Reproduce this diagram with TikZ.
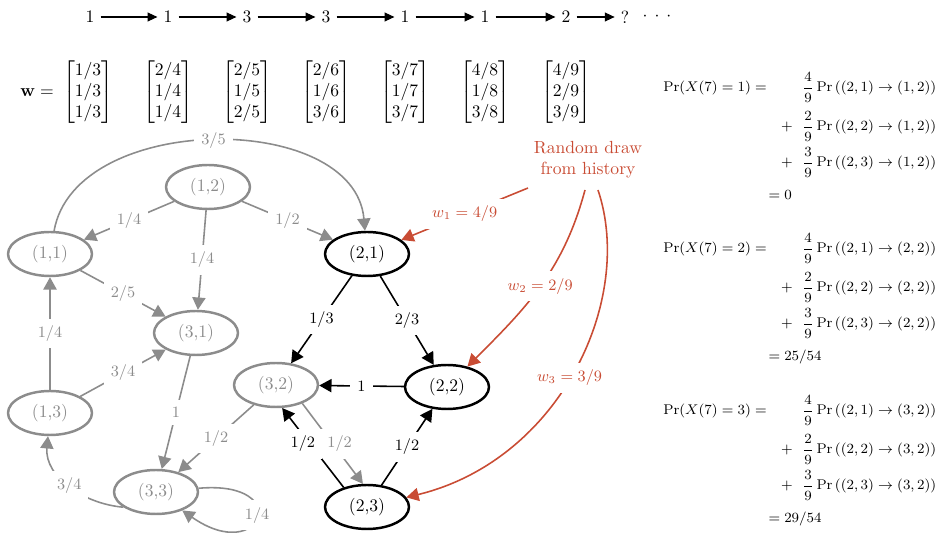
\documentclass[tikz,border=0pt]{standalone}
\usepackage{amsmath}
\usetikzlibrary{arrows.meta,shapes.geometric}
\definecolor{gr}{RGB}{140,140,140}
\definecolor{rd}{RGB}{201,76,52}
\begin{document}
\begin{tikzpicture}[x=0.02cm,y=-0.02cm,
  stn/.style={ellipse, draw, line width=1.4pt, minimum width=1.68cm, minimum height=0.88cm, inner sep=0pt},
  gst/.style={stn, draw=gr, text=gr},
  bst/.style={stn, draw=black},
  arrtip/.style={-{Triangle[length=7pt,width=7.5pt]}},
  gedge/.style={draw=gr, line width=0.9pt, arrtip},
  bedge/.style={draw=black, line width=0.9pt, arrtip},
  redge/.style={draw=rd, line width=0.9pt, arrtip},
  lab/.style={fill=white, inner sep=4pt, font=\small},
  glab/.style={lab, text=gr},
  rlab/.style={lab, text=rd},
  seqarr/.style={line width=0.6pt, -{Triangle[length=5.5pt,width=5pt]}},
  eqn/.style={inner sep=0pt, font=\footnotesize, anchor=base west},
  eqlead/.style={inner sep=0pt, font=\footnotesize, anchor=base east},
  plusn/.style={inner sep=0pt, font=\footnotesize, anchor=base east}
]
\useasboundingbox (0,0) rectangle (938,533);

% ---- top sequence ----
\node (s1) at (90,17) {$1$};
\node (s2) at (168,17) {$1$};
\node (s3) at (247,17) {$3$};
\node (s4) at (326,17) {$3$};
\node (s5) at (405,17) {$1$};
\node (s6) at (485,17) {$1$};
\node (s7) at (566,17) {$2$};
\node (s8) at (625,17) {$?$};
\node (s9) at (657,17) {${\cdot}\hspace{4pt}{\cdot}\hspace{4pt}{\cdot}$};
\draw[seqarr] (s1) -- (s2);
\draw[seqarr] (s2) -- (s3);
\draw[seqarr] (s3) -- (s4);
\draw[seqarr] (s4) -- (s5);
\draw[seqarr] (s5) -- (s6);
\draw[seqarr] (s6) -- (s7);
\draw[seqarr] (s7) -- (s8);

% ---- weight vectors ----
\node[anchor=east] (wl) at (60,93) {$\mathbf{w} =$};
\node (m1) at (88,92) {$\begin{bmatrix}1/3\\1/3\\1/3\end{bmatrix}$};
\node (m2) at (168,92) {$\begin{bmatrix}2/4\\1/4\\1/4\end{bmatrix}$};
\node (m3) at (247,92) {$\begin{bmatrix}2/5\\1/5\\2/5\end{bmatrix}$};
\node (m4) at (326,92) {$\begin{bmatrix}2/6\\1/6\\3/6\end{bmatrix}$};
\node (m5) at (405,92) {$\begin{bmatrix}3/7\\1/7\\3/7\end{bmatrix}$};
\node (m6) at (485,92) {$\begin{bmatrix}4/8\\1/8\\3/8\end{bmatrix}$};
\node (m7) at (566,92) {$\begin{bmatrix}4/9\\2/9\\3/9\end{bmatrix}$};

% ---- graph nodes ----
\node[gst] (n12) at (208,187) {(1,2)};
\node[gst] (n11) at (50,254) {(1,1)};
\node[bst] (n21) at (367,254) {(2,1)};
\node[gst] (n31) at (196,333) {(3,1)};
\node[gst] (n13) at (50,413) {(1,3)};
\node[gst] (n32) at (276,385) {(3,2)};
\node[bst] (n22) at (447,387) {(2,2)};
\node[gst] (n33) at (156,492) {(3,3)};
\node[bst] (n23) at (367,507) {(2,3)};

% ---- gray edges ----
\draw[gedge] (n12) -- node[glab]{$1/4$} (n11);
\draw[gedge] (n12) -- node[glab]{$1/2$} (n21);
\draw[gedge] (n12) -- node[glab]{$1/4$} (n31);
\draw[gedge] (n11) to[out=80,in=95] node[glab]{$3/5$} (n21);
\draw[gedge] (n11) -- node[glab]{$2/5$} (n31);
\draw[gedge] (n13) -- node[glab]{$1/4$} (n11);
\draw[gedge] (n13) -- node[glab]{$3/4$} (n31);
\draw[gedge] (n31) -- node[glab]{$1$} (n33);
\draw[gedge] (n32) -- node[glab]{$1/2$} (n33);
\draw[gedge] (n32.-35) -- node[glab, xshift=4pt]{$1/2$} (n23.100);
\draw[gedge] (n33.205) to[out=175,in=-95] node[glab]{$3/4$} (n13);
\draw[gedge] (n33) to[out=5,in=-35,looseness=9] node[glab, pos=0.48]{$1/4$} (n33);

% ---- black edges ----
\draw[bedge] (n21) -- node[lab]{$1/3$} (n32);
\draw[bedge] (n21) -- node[lab]{$2/3$} (n22);
\draw[bedge] (n22) -- node[lab]{$1$} (n32);
\draw[bedge] (n23.140) -- node[lab, xshift=-4pt, pos=0.55]{$1/2$} (n32.-75);
\draw[bedge] (n23) -- node[lab]{$1/2$} (n22);

% ---- random draw ----
\node[text=rd, align=center] (rdraw) at (588,160) {Random draw\\from history};
\coordinate (r1) at (528,188);
\coordinate (r2) at (585,190);
\coordinate (r3) at (598,190);
\draw[redge] (r1) -- node[rlab]{$w_1 = 4/9$} (n21);
\draw[redge] (r2) to[out=-105,in=45] node[rlab]{$w_2 = 2/9$} (n22);
\draw[redge] (r3) .. controls (635,300) and (560,460) .. node[rlab, pos=0.52]{$w_3 = 3/9$} (n23);

% ---- equations ----
\node[eqlead] (pa1) at (767,91.5) {$\Pr(X(7)=1) =$};
\node[eqn] (pb1) at (802,91.5) {$\displaystyle\frac{4}{9}\Pr\left((2,1)\to(1,2)\right)$};
\node[plusn] (pc1) at (793,130.5) {$+$};
\node[eqn] (pd1) at (802,130.5) {$\displaystyle\frac{2}{9}\Pr\left((2,2)\to(1,2)\right)$};
\node[plusn] (pe1) at (793,166.5) {$+$};
\node[eqn] (pf1) at (802,166.5) {$\displaystyle\frac{3}{9}\Pr\left((2,3)\to(1,2)\right)$};
\node[eqn] (pg1) at (764,199.5) {${}=0$};

\node[eqlead] (pa2) at (767,252.5) {$\Pr(X(7)=2) =$};
\node[eqn] (pb2) at (802,252.5) {$\displaystyle\frac{4}{9}\Pr\left((2,1)\to(2,2)\right)$};
\node[plusn] (pc2) at (793,291.5) {$+$};
\node[eqn] (pd2) at (802,291.5) {$\displaystyle\frac{2}{9}\Pr\left((2,2)\to(2,2)\right)$};
\node[plusn] (pe2) at (793,327.5) {$+$};
\node[eqn] (pf2) at (802,327.5) {$\displaystyle\frac{3}{9}\Pr\left((2,3)\to(2,2)\right)$};
\node[eqn] (pg2) at (764,360.5) {${}=25/54$};

\node[eqlead] (pa3) at (767,414.5) {$\Pr(X(7)=3) =$};
\node[eqn] (pb3) at (802,414.5) {$\displaystyle\frac{4}{9}\Pr\left((2,1)\to(3,2)\right)$};
\node[plusn] (pc3) at (793,453.5) {$+$};
\node[eqn] (pd3) at (802,453.5) {$\displaystyle\frac{2}{9}\Pr\left((2,2)\to(3,2)\right)$};
\node[plusn] (pe3) at (793,489.5) {$+$};
\node[eqn] (pf3) at (802,489.5) {$\displaystyle\frac{3}{9}\Pr\left((2,3)\to(3,2)\right)$};
\node[eqn] (pg3) at (764,522.5) {${}=29/54$};
\end{tikzpicture}
\end{document}
